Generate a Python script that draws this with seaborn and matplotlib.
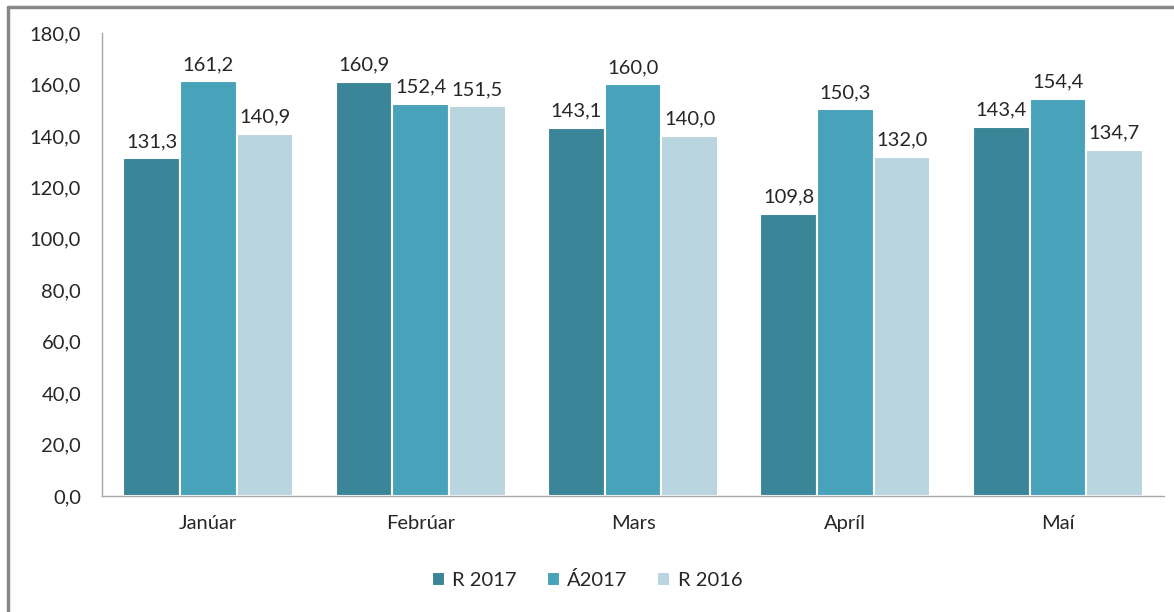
import pandas as pd
import matplotlib
matplotlib.use('Agg')
import matplotlib.pyplot as plt
from matplotlib.lines import Line2D
import seaborn as sns

# Gögn
manudir = ['Janúar', 'Febrúar', 'Mars', 'Apríl', 'Maí']
r2017 = [131.3, 160.9, 143.1, 109.8, 143.4]
a2017 = [161.2, 152.4, 160.0, 150.3, 154.4]
r2016 = [140.9, 151.5, 140.0, 132.0, 134.7]
raðir = ['R 2017', 'Á2017', 'R 2016']
litir = ['#3A8598', '#48A2B9', '#B8D5E0']

df = pd.DataFrame({
    'Mánuður': manudir * 3,
    'Gildi': r2017 + a2017 + r2016,
    'Röð': [raðir[0]] * 5 + [raðir[1]] * 5 + [raðir[2]] * 5,
})

sns.set_style("white")
plt.rcParams['font.family'] = ['Lato', 'DejaVu Sans']

fig = plt.figure(figsize=(11.74, 6.12), dpi=100)
ax = fig.add_axes([0.0869, 0.1895, 0.9046, 0.7565])

sns.barplot(data=df, x='Mánuður', y='Gildi', hue='Röð', hue_order=raðir,
            palette=litir, saturation=1, width=0.8, edgecolor='white', linewidth=1.5,
            ax=ax, legend=True)

for cont in ax.containers:
    ax.bar_label(cont, labels=[f'{v:.1f}'.replace('.', ',') for v in cont.datavalues],
                 padding=6, fontsize=14.5, color='#262626')

ax.set_ylim(0, 180)
ax.set_yticks(range(0, 181, 20))
ax.set_yticklabels([f'{v},0' for v in range(0, 181, 20)])
ax.set_xlabel('')
ax.set_ylabel('')
ax.tick_params(axis='both', length=0, labelsize=14.5, colors='#262626')
ax.tick_params(axis='y', pad=15)
ax.tick_params(axis='x', pad=14)

for s in ['top', 'right']:
    ax.spines[s].set_visible(False)
for s in ['left', 'bottom']:
    ax.spines[s].set_color('#A6A6A6')
    ax.spines[s].set_linewidth(1.0)

leg = ax.legend(loc='center', bbox_to_anchor=(0.5, 1 - 580 / 612), bbox_transform=fig.transFigure,
                ncol=3, frameon=False, fontsize=14.5, handlelength=0.65, handleheight=0.65,
                handletextpad=0.35, columnspacing=1.5)
for h in leg.legend_handles:
    h.set_edgecolor('white')
for t in leg.get_texts():
    t.set_color('#262626')

# ramminn utan um myndina
fig.add_artist(Line2D([8 / 1174, 1], [1 - 6.5 / 612] * 2, color='#888888', linewidth=2.5))
fig.add_artist(Line2D([8 / 1174] * 2, [0, 1 - 6.5 / 612], color='#888888', linewidth=2.5))

plt.savefig('out.png', dpi=100)
plt.close()
